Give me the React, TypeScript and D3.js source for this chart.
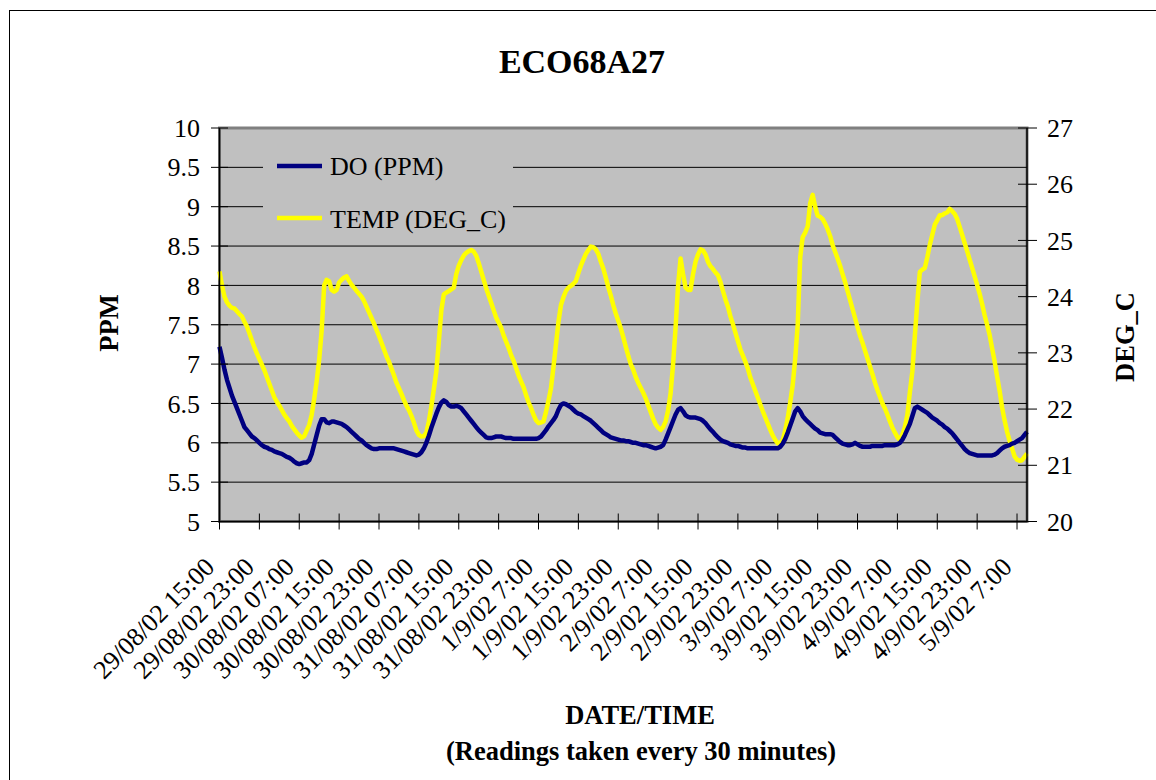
import * as d3 from 'd3';

// half-hourly readings
const doPpm = [
  7.22, 7.08, 6.93, 6.80, 6.70, 6.60, 6.52, 6.44, 6.36, 6.28, 6.20, 6.16, 6.12, 6.08, 6.06, 6.03,
  6.00, 5.97, 5.95, 5.94, 5.92, 5.91, 5.89, 5.88, 5.87, 5.86, 5.84, 5.82, 5.81, 5.79, 5.76, 5.74,
  5.73, 5.74, 5.75, 5.75, 5.78, 5.86, 5.98, 6.10, 6.22, 6.30, 6.30, 6.26, 6.25, 6.27, 6.27, 6.26,
  6.25, 6.24, 6.22, 6.20, 6.17, 6.14, 6.11, 6.08, 6.05, 6.03, 6.00, 5.97, 5.95, 5.93, 5.92, 5.92,
  5.93, 5.93, 5.93, 5.93, 5.93, 5.93, 5.93, 5.92, 5.91, 5.90, 5.89, 5.88, 5.87, 5.86, 5.85, 5.84,
  5.85, 5.88, 5.93, 6.00, 6.09, 6.19, 6.28, 6.37, 6.45, 6.51, 6.54, 6.52, 6.48, 6.46, 6.46, 6.47,
  6.46, 6.44, 6.40, 6.36, 6.32, 6.28, 6.24, 6.20, 6.16, 6.13, 6.10, 6.07, 6.06, 6.06, 6.07, 6.08,
  6.08, 6.08, 6.07, 6.06, 6.06, 6.06, 6.05, 6.05, 6.05, 6.05, 6.05, 6.05, 6.05, 6.05, 6.05, 6.05,
  6.06, 6.08, 6.12, 6.16, 6.21, 6.25, 6.29, 6.34, 6.42, 6.48, 6.50, 6.49, 6.47, 6.45, 6.42, 6.39,
  6.37, 6.36, 6.34, 6.32, 6.30, 6.28, 6.25, 6.22, 6.19, 6.16, 6.13, 6.11, 6.09, 6.07, 6.06, 6.05,
  6.04, 6.03, 6.03, 6.02, 6.02, 6.01, 6.00, 6.00, 5.99, 5.98, 5.97, 5.97, 5.96, 5.95, 5.94, 5.93,
  5.94, 5.95, 5.97, 6.04, 6.12, 6.20, 6.28, 6.36, 6.42, 6.44, 6.40, 6.35, 6.33, 6.32, 6.32, 6.32,
  6.31, 6.30, 6.28, 6.25, 6.21, 6.17, 6.14, 6.10, 6.07, 6.04, 6.02, 6.01, 6.00, 5.98, 5.97, 5.96,
  5.96, 5.95, 5.94, 5.94, 5.93, 5.93, 5.93, 5.93, 5.93, 5.93, 5.93, 5.93, 5.93, 5.93, 5.93, 5.93,
  5.93, 5.95, 5.99, 6.05, 6.13, 6.22, 6.31, 6.40, 6.44, 6.40, 6.34, 6.30, 6.27, 6.24, 6.21, 6.18,
  6.16, 6.13, 6.12, 6.11, 6.11, 6.11, 6.10, 6.07, 6.04, 6.01, 5.99, 5.98, 5.97, 5.97, 5.98, 6.00,
  5.98, 5.96, 5.95, 5.95, 5.95, 5.95, 5.96, 5.96, 5.96, 5.96, 5.96, 5.97, 5.97, 5.97, 5.97, 5.97,
  5.98, 6.00, 6.04, 6.10, 6.17, 6.24, 6.34, 6.44, 6.46, 6.44, 6.42, 6.40, 6.38, 6.35, 6.32, 6.30,
  6.28, 6.25, 6.23, 6.20, 6.18, 6.15, 6.12, 6.08, 6.04, 6.00, 5.96, 5.92, 5.89, 5.87, 5.86, 5.85,
  5.84, 5.84, 5.84, 5.84, 5.84, 5.84, 5.84, 5.85, 5.87, 5.90, 5.93, 5.95, 5.96, 5.97, 5.99, 6.00,
  6.02, 6.04, 6.06, 6.10, 6.14,
];

const tempC = [
  24.45, 24.20, 24.00, 23.90, 23.84, 23.80, 23.79, 23.74, 23.69, 23.65, 23.55, 23.47, 23.35, 23.22, 23.10, 22.99,
  22.89, 22.79, 22.69, 22.57, 22.45, 22.33, 22.21, 22.13, 22.06, 21.98, 21.90, 21.84, 21.78, 21.70, 21.64, 21.58,
  21.53, 21.49, 21.52, 21.62, 21.72, 21.90, 22.18, 22.50, 22.88, 23.40, 24.20, 24.30, 24.27, 24.12, 24.09, 24.12,
  24.25, 24.30, 24.34, 24.36, 24.28, 24.21, 24.16, 24.10, 24.05, 24.00, 23.92, 23.82, 23.72, 23.62, 23.52, 23.41,
  23.30, 23.18, 23.06, 22.94, 22.84, 22.72, 22.60, 22.47, 22.37, 22.27, 22.16, 22.06, 21.98, 21.88, 21.76, 21.62,
  21.54, 21.51, 21.52, 21.58, 21.78, 22.05, 22.35, 22.67, 23.20, 23.75, 24.04, 24.07, 24.10, 24.13, 24.16, 24.40,
  24.55, 24.65, 24.73, 24.78, 24.81, 24.83, 24.80, 24.73, 24.60, 24.45, 24.30, 24.15, 24.02, 23.89, 23.76, 23.63,
  23.54, 23.45, 23.31, 23.20, 23.09, 22.96, 22.86, 22.73, 22.60, 22.49, 22.39, 22.25, 22.12, 22.02, 21.90, 21.80,
  21.75, 21.76, 21.78, 21.95, 22.15, 22.37, 22.75, 23.15, 23.55, 23.85, 23.99, 24.10, 24.16, 24.19, 24.23, 24.28,
  24.42, 24.55, 24.66, 24.76, 24.83, 24.89, 24.88, 24.84, 24.76, 24.62, 24.50, 24.34, 24.17, 24.02, 23.85, 23.70,
  23.57, 23.44, 23.28, 23.11, 22.95, 22.80, 22.70, 22.57, 22.47, 22.38, 22.29, 22.19, 22.07, 21.95, 21.83, 21.73,
  21.67, 21.63, 21.68, 21.78, 21.98, 22.28, 22.80, 23.45, 24.20, 24.68, 24.40, 24.16, 24.12, 24.12, 24.40, 24.62,
  24.75, 24.84, 24.82, 24.75, 24.62, 24.54, 24.49, 24.43, 24.38, 24.26, 24.10, 23.95, 23.82, 23.65, 23.51, 23.36,
  23.21, 23.06, 22.95, 22.84, 22.72, 22.56, 22.44, 22.32, 22.20, 22.08, 21.96, 21.85, 21.74, 21.63, 21.53, 21.45,
  21.39, 21.40, 21.45, 21.62, 21.84, 22.12, 22.43, 22.90, 23.50, 24.70, 25.06, 25.14, 25.25, 25.66, 25.81, 25.60,
  25.44, 25.42, 25.38, 25.30, 25.20, 25.08, 24.92, 24.80, 24.68, 24.55, 24.40, 24.26, 24.10, 23.94, 23.78, 23.62,
  23.46, 23.31, 23.18, 23.04, 22.90, 22.76, 22.62, 22.47, 22.34, 22.22, 22.10, 22.01, 21.90, 21.78, 21.67, 21.58,
  21.50, 21.45, 21.55, 21.68, 21.90, 22.30, 22.67, 23.30, 23.90, 24.44, 24.48, 24.51, 24.70, 24.92, 25.10, 25.28,
  25.36, 25.45, 25.45, 25.48, 25.50, 25.56, 25.52, 25.47, 25.38, 25.24, 25.10, 24.95, 24.81, 24.66, 24.51, 24.36,
  24.21, 24.05, 23.87, 23.67, 23.50, 23.32, 23.08, 22.85, 22.58, 22.33, 22.03, 21.80, 21.60, 21.44, 21.30, 21.16,
  21.10, 21.08, 21.09, 21.15, 21.21,
];

// a label every 16 readings (8 hours)
const xLabels = [
  '29/08/02 15:00', '29/08/02 23:00', '30/08/02 07:00', '30/08/02 15:00', '30/08/02 23:00',
  '31/08/02 07:00', '31/08/02 15:00', '31/08/02 23:00', '1/9/02 7:00', '1/9/02 15:00',
  '1/9/02 23:00', '2/9/02 7:00', '2/9/02 15:00', '2/9/02 23:00', '3/9/02 7:00',
  '3/9/02 15:00', '3/9/02 23:00', '4/9/02 7:00', '4/9/02 15:00', '4/9/02 23:00', '5/9/02 7:00',
];
const leftTicks = [5, 5.5, 6, 6.5, 7, 7.5, 8, 8.5, 9, 9.5, 10];
const rightTicks = [20, 21, 22, 23, 24, 25, 26, 27];

const W = 1156;
const H = 780;
const FONT = '"Liberation Serif", "Times New Roman", serif';

export default function App() {
  const left = 219.5, right = 1027, top = 128, bottom = 521.5;
  const n = doPpm.length;
  const x = d3.scaleLinear([0, n - 1], [left, right]);
  const yL = d3.scaleLinear([5, 10], [bottom, top]);
  const yR = d3.scaleLinear([20, 27], [bottom, top]);

  const doLine = d3.line<number>().x((_, i) => x(i)).y(d => yL(d))(doPpm) || '';
  const tempLine = d3.line<number>().x((_, i) => x(i)).y(d => yR(d))(tempC) || '';

  return (
    <svg width={W} height={H} style={{ position: 'absolute', left: 0, top: 0, background: '#fff' }} fontFamily={FONT}>
      <rect x={9.5} y={10.5} width={W + 20} height={H + 20} fill="none" stroke="#000" strokeWidth={1} />

      <text x={582} y={73} textAnchor="middle" fontSize={34} fontWeight="bold">ECO68A27</text>

      {/* plot area */}
      <rect x={left} y={top} width={right - left} height={bottom - top} fill="#C0C0C0" stroke="#808080" strokeWidth={3} />
      {leftTicks.slice(1, -1).map(t => (
        <line key={t} x1={left} x2={right} y1={yL(t)} y2={yL(t)} stroke="#000" strokeWidth={1} />
      ))}

      <path d={tempLine} fill="none" stroke="#FFFF00" strokeWidth={4.5} strokeLinejoin="round" />
      <path d={doLine} fill="none" stroke="#000080" strokeWidth={4.5} strokeLinejoin="round" />

      {/* legend */}
      <rect x={263} y={140} width={250} height={100} fill="#C0C0C0" />
      <line x1={277} x2={322} y1={166} y2={166} stroke="#000080" strokeWidth={4.5} />
      <text x={330} y={175} fontSize={26}>DO (PPM)</text>
      <line x1={277} x2={322} y1={218} y2={218} stroke="#FFFF00" strokeWidth={4.5} />
      <text x={330} y={228} fontSize={26}>TEMP (DEG_C)</text>

      {/* axes */}
      <line x1={left} x2={left} y1={top} y2={bottom} stroke="#000" strokeWidth={1.5} />
      <line x1={right} x2={right} y1={top} y2={bottom} stroke="#000" strokeWidth={1.5} />
      <line x1={left} x2={right} y1={bottom} y2={bottom} stroke="#000" strokeWidth={1.5} />

      {leftTicks.map(t => (
        <g key={t}>
          <line x1={211} x2={228} y1={yL(t)} y2={yL(t)} stroke="#000" />
          <text x={200} y={yL(t)} dy="0.35em" textAnchor="end" fontSize={26}>{t}</text>
        </g>
      ))}
      {rightTicks.map(t => (
        <g key={t}>
          <line x1={1018} x2={1037} y1={yR(t)} y2={yR(t)} stroke="#000" />
          <text x={1047} y={yR(t)} dy="0.35em" fontSize={26}>{t}</text>
        </g>
      ))}
      {xLabels.map((lab, k) => {
        const tx = x(k * 16);
        return (
          <g key={lab}>
            <line x1={tx} x2={tx} y1={bottom - 8} y2={bottom + 8} stroke="#000" />
            <text transform={`translate(${tx - 10},562) rotate(-45)`} dy="0.35em" textAnchor="end" fontSize={26}>{lab}</text>
          </g>
        );
      })}

      <text transform="translate(118,323) rotate(-90)" textAnchor="middle" fontSize={26.5} fontWeight="bold">PPM</text>
      <text transform="translate(1134,337) rotate(-90)" textAnchor="middle" fontSize={26.5} fontWeight="bold">DEG_C</text>
      <text x={640} y={724} textAnchor="middle" fontSize={26.5} fontWeight="bold">DATE/TIME</text>
      <text x={641} y={760} textAnchor="middle" fontSize={26.5} fontWeight="bold">(Readings taken every 30 minutes)</text>
    </svg>
  );
}
